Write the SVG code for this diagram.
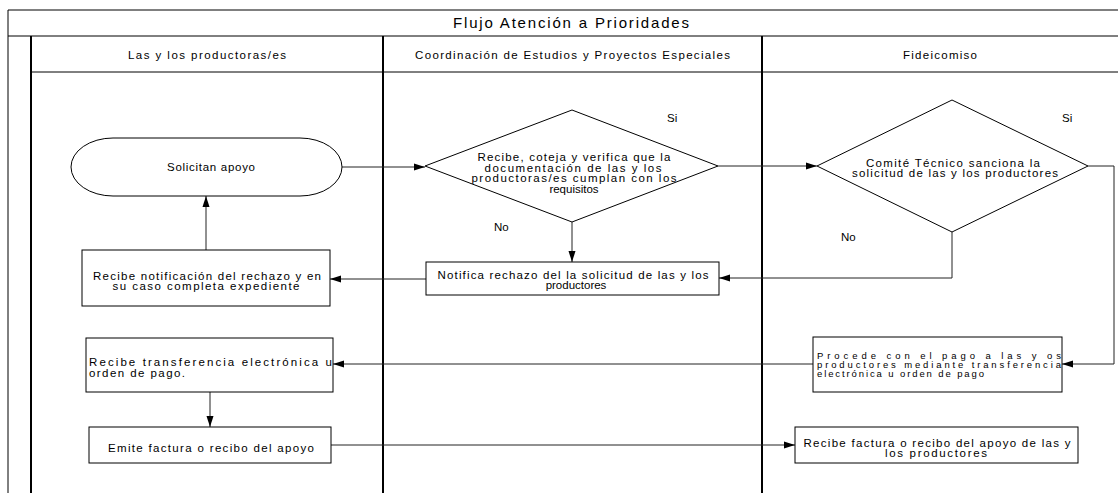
<svg xmlns="http://www.w3.org/2000/svg" width="1118" height="493" viewBox="0 0 1118 493">
<defs>
<style>
text{font-family:"Liberation Sans",Arial,sans-serif;fill:#000;}
.t{font-size:11.5px;text-anchor:middle;}
.l{font-size:11.5px;}
.p{font-size:9.5px;}
.h{font-size:11.5px;text-anchor:middle;}
.node{fill:#fff;stroke:#000;stroke-width:1;}
.c{fill:none;stroke:#222;stroke-width:1;}
.frame{stroke:#000;fill:none;}
</style>
<marker id="ah" markerUnits="userSpaceOnUse" markerWidth="12" markerHeight="8" refX="11" refY="4" orient="auto">
<path d="M0,0.5 L11,4 L0,7.5 Z" fill="#000"/>
</marker>
</defs>
<rect width="1118" height="493" fill="#fff"/>
<g id="pool">
<line class="frame" x1="8" y1="10" x2="1118" y2="10" stroke-width="1"/>
<line class="frame" x1="8" y1="36" x2="1118" y2="36" stroke-width="1" stroke="#555"/>
<line class="frame" x1="31" y1="72" x2="1118" y2="72" stroke-width="1" stroke="#555"/>
<line class="frame" x1="8" y1="10" x2="8" y2="493" stroke-width="1"/>
<line class="frame" x1="31" y1="36" x2="31" y2="493" stroke-width="2"/>
<line class="frame" x1="383" y1="36" x2="383" y2="493" stroke-width="2"/>
<line class="frame" x1="762" y1="36" x2="762" y2="493" stroke-width="2"/>
<text x="571" y="28" font-size="15" text-anchor="middle" textLength="236" lengthAdjust="spacing">Flujo Atención a Prioridades</text>
<text class="h" x="207" y="58.5" textLength="158" lengthAdjust="spacing">Las y los productoras/es</text>
<text class="h" x="572.5" y="58.5" textLength="315" lengthAdjust="spacing">Coordinación de Estudios y Proyectos Especiales</text>
<text class="h" x="940" y="58.5" textLength="74" lengthAdjust="spacing">Fideicomiso</text>
</g>
<g id="connectors">
<line class="c" x1="342" y1="167" x2="425" y2="167" marker-end="url(#ah)"/>
<line class="c" x1="718" y1="166" x2="817" y2="166" marker-end="url(#ah)"/>
<line class="c" x1="572" y1="222" x2="572" y2="262" marker-end="url(#ah)"/>
<polyline class="c" points="952,232 952,278 719,278" marker-end="url(#ah)"/>
<line class="c" x1="426" y1="279" x2="330" y2="279" marker-end="url(#ah)"/>
<line class="c" x1="206" y1="250" x2="206" y2="196" marker-end="url(#ah)"/>
<polyline class="c" points="1088,166 1114,166 1114,364 1062,364" marker-end="url(#ah)"/>
<line class="c" x1="813" y1="364" x2="333" y2="364" marker-end="url(#ah)"/>
<line class="c" x1="210" y1="392" x2="210" y2="427" marker-end="url(#ah)"/>
<line class="c" x1="331" y1="445" x2="795" y2="445" marker-end="url(#ah)"/>
<text class="l" x="667" y="122">Si</text>
<text class="l" x="1062" y="122">Si</text>
<text class="l" x="494" y="231">No</text>
<text class="l" x="841" y="241">No</text>
</g>
<g id="n-solicitan">
<rect class="node" x="71" y="138" width="271" height="58" rx="42" ry="29"/>
<text class="t" x="211" y="171" textLength="88" lengthAdjust="spacing">Solicitan apoyo</text>
</g>
<g id="n-recibe-verifica">
<polygon class="node" points="572,110 718,166 572,222 425,166"/>
<text class="t" x="574" y="161" textLength="193" lengthAdjust="spacing">Recibe, coteja y verifica que la</text>
<text class="t" x="573" y="172" textLength="177" lengthAdjust="spacing">documentación  de las y los</text>
<text class="t" x="574" y="182" textLength="205" lengthAdjust="spacing">productoras/es cumplan con los</text>
<text class="t" x="574" y="193">requisitos</text>
</g>
<g id="n-comite">
<polygon class="node" points="952,100 1088,166 952,232 817,166"/>
<text class="t" x="953" y="167" textLength="174" lengthAdjust="spacing">Comité Técnico sanciona la</text>
<text class="t" x="955" y="177" textLength="206" lengthAdjust="spacing">solicitud de las y los productores</text>
</g>
<g id="n-notifica">
<rect class="node" x="426" y="262" width="293" height="33"/>
<text class="t" x="573" y="279" textLength="271" lengthAdjust="spacing">Notifica rechazo del la solicitud de las y los</text>
<text class="t" x="576" y="289">productores</text>
</g>
<g id="n-recibe-notif">
<rect class="node" x="82" y="250" width="248" height="56"/>
<text class="t" x="207" y="280" textLength="228" lengthAdjust="spacing">Recibe notificación del rechazo y en</text>
<text class="t" x="206" y="290" textLength="187" lengthAdjust="spacing">su caso completa expediente</text>
</g>
<g id="n-procede">
<rect class="node" x="813" y="337" width="249" height="55"/>
<text class="p" x="817" y="359" textLength="244" lengthAdjust="spacing">Procede con el pago a las y os</text>
<text class="p" x="817" y="368" textLength="244" lengthAdjust="spacing">productores mediante transferencia</text>
<text class="p" x="817" y="377" textLength="167" lengthAdjust="spacing">electrónica u orden de pago</text>
</g>
<g id="n-recibe-transf">
<rect class="node" x="86" y="338" width="247" height="54"/>
<text class="l" x="89" y="366" textLength="243" lengthAdjust="spacing">Recibe transferencia electrónica u</text>
<text class="l" x="89" y="377" textLength="96" lengthAdjust="spacing">orden de pago.</text>
</g>
<g id="n-emite">
<rect class="node" x="89" y="427" width="242" height="36"/>
<text class="t" x="211" y="452" textLength="206" lengthAdjust="spacing">Emite factura o recibo del apoyo</text>
</g>
<g id="n-recibe-factura">
<rect class="node" x="795" y="427" width="283" height="36"/>
<text class="t" x="937" y="447" textLength="267" lengthAdjust="spacing">Recibe factura o recibo del apoyo de las y</text>
<text class="t" x="936" y="457" textLength="102" lengthAdjust="spacing">los productores</text>
</g>
</svg>
